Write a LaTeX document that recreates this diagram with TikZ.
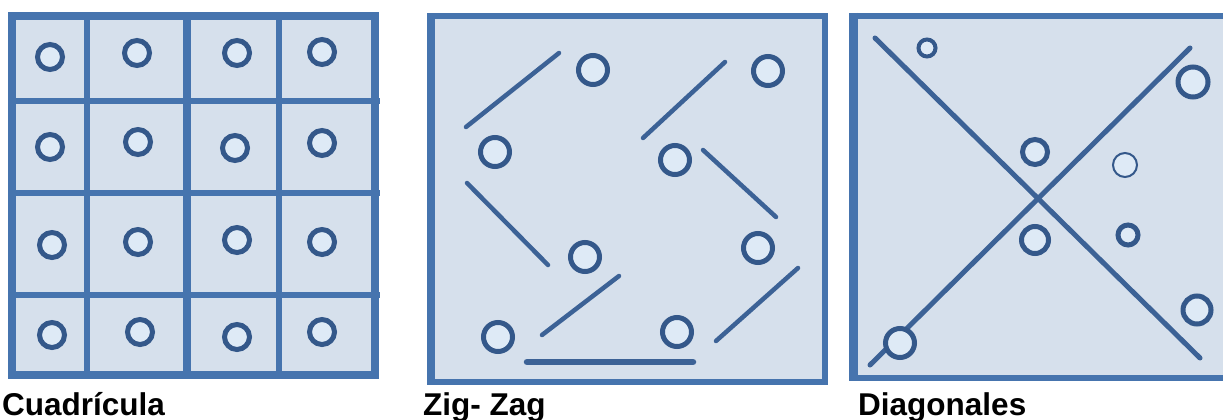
\documentclass[tikz,border=0pt]{standalone}
\usepackage{fontspec}
\setmainfont{Liberation Sans}
\begin{document}
\begin{tikzpicture}[x=1pt,y=-1pt,
  framecol/.style={draw=linec, line width=6.5pt},
  gridline/.style={draw=linec, line width=6pt},
  seg/.style={draw=segc, line width=4.5pt, line cap=round},
  dot/.style={circle, draw=dotc, line width=5pt, fill=dotfill, minimum size=#1, inner sep=0pt},
  dot/.default=25pt,
  lbl/.style={anchor=base west, inner sep=0pt, font=\fontsize{31.5}{36}\selectfont\bfseries}]
\definecolor{linec}{RGB}{70,116,174}
\definecolor{segc}{RGB}{60,98,150}
\definecolor{dotc}{RGB}{52,88,138}
\definecolor{bgfill}{RGB}{214,224,236}
\definecolor{dotfill}{RGB}{222,234,246}
\useasboundingbox (0,0) rectangle (1223,420);
\fill[white] (0,0) rectangle (1223,420);
% ---------- Panel 1: Cuadricula ----------
\fill[bgfill] (12,16) rectangle (375,375);
\foreach \x in {87,279} \draw[gridline] (\x,16) -- (\x,375);
\draw[gridline, line width=8pt] (187,16) -- (187,375);
\foreach \y in {101,193,295} \draw[gridline] (12,\y) -- (380,\y);
\draw[framecol, line width=7.5pt] (12,16) rectangle (375,375);
\node[dot] (a11) at (50,57) {};
\node[dot] (a12) at (137,53) {};
\node[dot] (a13) at (237,53) {};
\node[dot] (a14) at (322,52) {};
\node[dot] (a21) at (50,147) {};
\node[dot] (a22) at (138,142) {};
\node[dot] (a23) at (235,148) {};
\node[dot] (a24) at (322,143) {};
\node[dot] (a31) at (52,245) {};
\node[dot] (a32) at (138,242) {};
\node[dot] (a33) at (237,240) {};
\node[dot] (a34) at (322,242) {};
\node[dot] (a41) at (52,335) {};
\node[dot] (a42) at (140,332) {};
\node[dot] (a43) at (237,337) {};
\node[dot] (a44) at (322,332) {};
\node[lbl] (l1) at (2,415) {Cuadrícula};
% ---------- Panel 2: Zig-Zag ----------
\fill[bgfill] (430,16) rectangle (825,382);
\draw[framecol] (430,16) rectangle (825,382);
\draw[linec, line width=8.5pt] (431,16) -- (431,382);
\node[dot=29pt] (b1) at (593,70) {};
\node[dot=29pt] (b2) at (768,71) {};
\node[dot=29pt] (b3) at (495,152) {};
\node[dot=29pt] (b4) at (675,160) {};
\node[dot=29pt] (b5) at (585,257) {};
\node[dot=29pt] (b6) at (758,248) {};
\node[dot=29pt] (b7) at (498,337) {};
\node[dot=29pt] (b8) at (677,332) {};
\draw[seg] (466,127) -- (559,53);
\draw[seg] (643,138) -- (725,62);
\draw[seg] (467,183) -- (548,265);
\draw[seg] (703,150) -- (776,217);
\draw[seg] (542,335) -- (619,276);
\draw[seg] (716,341) -- (798,268);
\draw[seg, line width=6.5pt] (527,362) -- (693,362);
\node[lbl] (l2) at (423,415) {Zig- Zag};
% ---------- Panel 3: Diagonales ----------
\fill[bgfill] (852,16) rectangle (1223,378);
\draw[framecol] (852,16) -- (1223,16);
\draw[framecol] (852,378) -- (1223,378);
\draw[linec, line width=9pt] (853,13) -- (853,381);
\draw[seg, line width=5pt] (875,38) -- (1200,358);
\draw[seg, line width=5pt] (1190,48) -- (870,365);
\node[dot=17pt, line width=4pt] (c1) at (927,48) {};
\node[dot=30pt] (c2) at (1193,82) {};
\node[dot=25pt] (c3) at (1035,152) {};
\node[dot=24pt, line width=2pt] (c4) at (1125,165) {};
\node[dot=27pt] (c5) at (1035,240) {};
\node[dot=20pt] (c6) at (1128,235) {};
\node[dot=28pt] (c7) at (1197,310) {};
\node[dot=29pt] (c8) at (900,343) {};
\node[lbl] (l3) at (858,415) {Diagonales};
\end{tikzpicture}
\end{document}
